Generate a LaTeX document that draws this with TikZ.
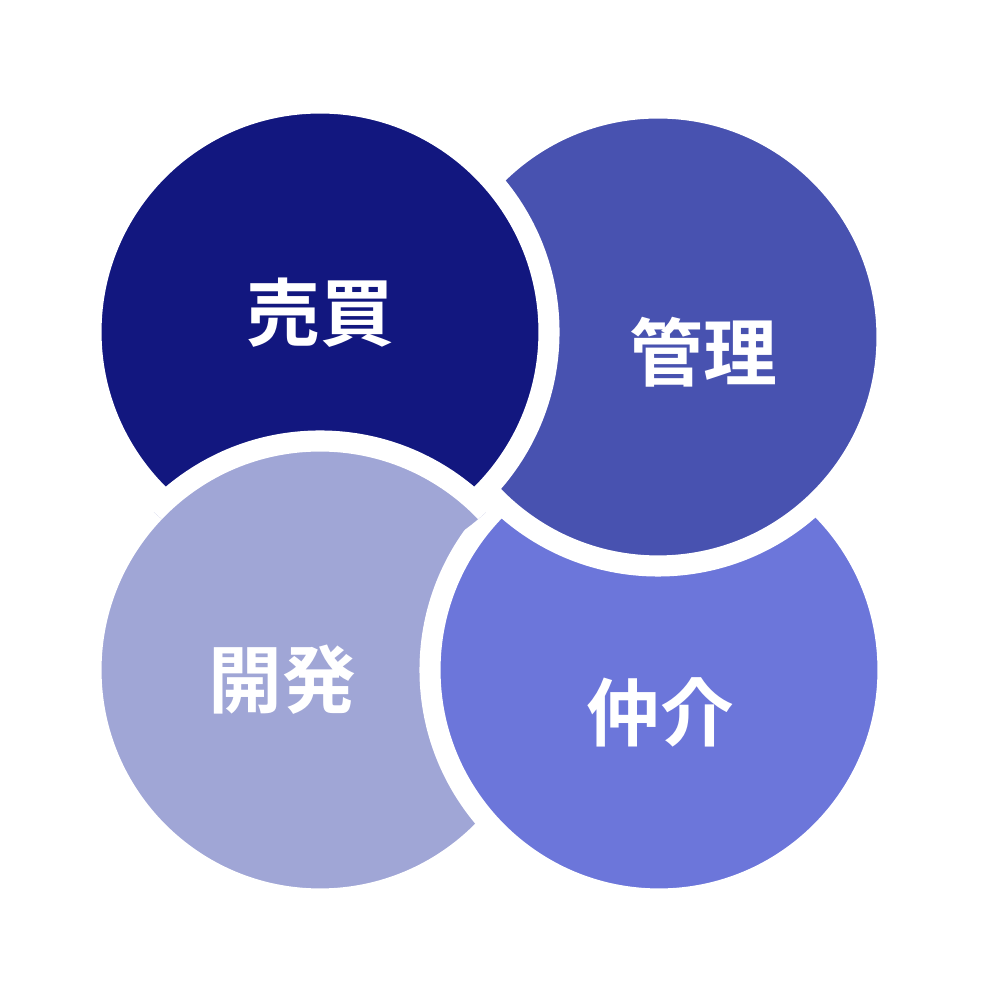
\documentclass[tikz,border=0pt]{standalone}
\usepackage{fontspec}
\newfontfamily\cjk{Noto Sans CJK JP}[BoldFont={Noto Sans CJK JP Bold}]
\definecolor{baibaiblue}{RGB}{18,23,127}
\definecolor{kanriblue}{RGB}{72,82,176}
\definecolor{kaihatsublue}{RGB}{160,166,214}
\definecolor{chukaiblue}{RGB}{108,118,218}
\begin{document}
\begin{tikzpicture}
    \tikzstyle{field} = [circle, draw=white, line width=6pt, minimum size=4.58cm]
    \tikzstyle{label} = [text=white, font=\cjk\bfseries\fontsize{21}{25}\selectfont]
    \useasboundingbox (0,0) rectangle (9.8,10.05);

    % cyclic overlap: draw three, then the top-left one, then patch
    \node[field, fill=kaihatsublue] (kaihatsu) at (3.20,3.35) {};
    \node[field, fill=chukaiblue] (chukai) at (6.59,3.35) {};
    \node[field, fill=kanriblue] (kanri) at (6.58,6.68) {};
    \node[field, fill=baibaiblue] (baibai) at (3.20,6.73) {};
    \begin{scope}
        \clip (baibai.center) circle (2.45);
        \node[field, fill=kaihatsublue] at (kaihatsu.center) {};
    \end{scope}

    \node[label] (baibaitext) at (3.20,6.92) {売買};
    \node[label] (kanritext) at (7.03,6.53) {管理};
    \node[label] (kaihatsutext) at (2.82,3.25) {開発};
    \node[label] (chukaitext) at (6.60,2.93) {仲介};
\end{tikzpicture}
\end{document}
